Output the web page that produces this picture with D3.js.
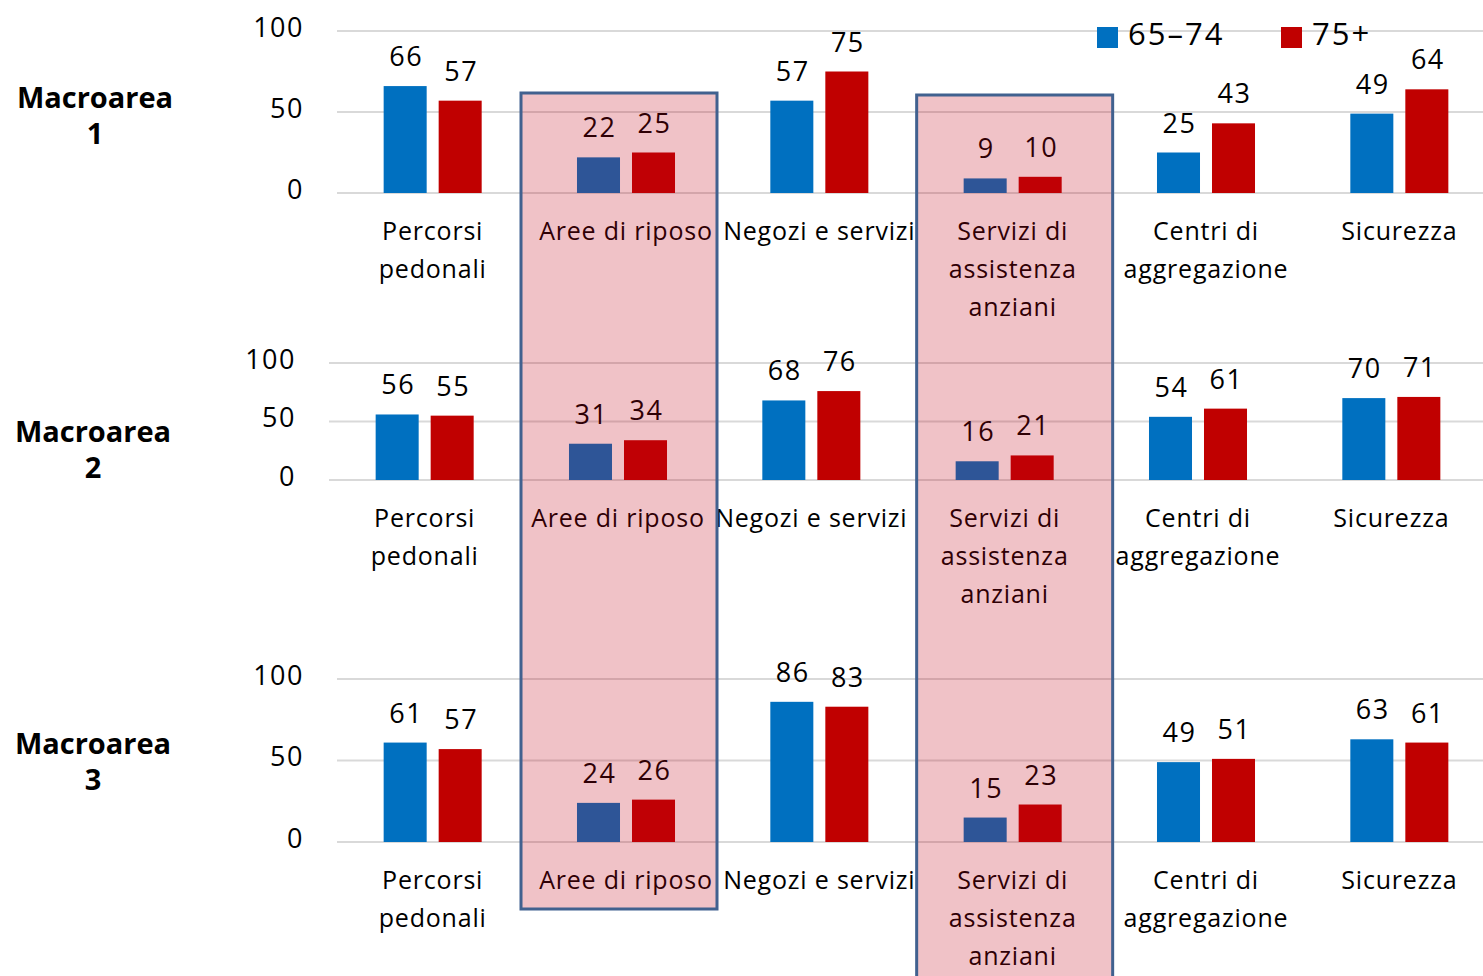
<!DOCTYPE html>
<html>
<head>
<meta charset="utf-8">
<script src="https://cdn.jsdelivr.net/npm/d3@7"></script>
<style>
  body { margin: 0; background: #fff; overflow: hidden; }
  text { font-family: "Open Sans", sans-serif; fill: #000; }
</style>
</head>
<body>
<div id="chart"></div>
<script>
// chart data
const categories = ['Percorsi pedonali', 'Aree di riposo', 'Negozi e servizi', 'Servizi di assistenza anziani', 'Centri di aggregazione', 'Sicurezza'];
const categoryLines = [['Percorsi', 'pedonali'], ['Aree di riposo'], ['Negozi e servizi'], ['Servizi di', 'assistenza', 'anziani'], ['Centri di', 'aggregazione'], ['Sicurezza']];
const seriesNames = ['65–74', '75+'];
const macroareas = [['Macroarea', '1'], ['Macroarea', '2'], ['Macroarea', '3']];
const values6574 = [[66, 22, 57, 9, 25, 49], [56, 31, 68, 16, 54, 70], [61, 24, 86, 15, 49, 63]];
const values75 = [[57, 25, 75, 10, 43, 64], [55, 34, 76, 21, 61, 71], [57, 26, 83, 23, 51, 61]];
const yTicks = [0, 50, 100];
const highlighted = ['Aree di riposo', 'Servizi di assistenza anziani'];

const colors = {'65–74': '#0070c0', '75+': '#c00000'};

const width = 1483, height = 976;

// layout of the three small charts
const panels = [
    {top: 31, bottom: 193, left: 336, titleX: 95, titleY: 96},
    {top: 363, bottom: 480, left: 328, titleX: 93, titleY: 430},
    {top: 679, bottom: 842, left: 336, titleX: 93, titleY: 742}
];

const svg = d3.select('#chart').append('svg')
    .attr('width', width)
    .attr('height', height);

let firstX0 = null;

panels.forEach((p, i) => {
    const x0 = d3.scaleBand()
        .domain(categories)
        .range([p.left, p.left + 1160])
        .paddingInner(0.493)
        .paddingOuter(0.2465);
    const x1 = d3.scaleBand()
        .domain(seriesNames)
        .range([0, x0.bandwidth()])
        .paddingInner(0.218);
    const y = d3.scaleLinear().domain([0, 100]).range([p.bottom, p.top]);
    if (i === 0) firstX0 = x0;

    const g = svg.append('g');

    // grid
    g.selectAll('line.grid')
        .data(yTicks)
        .enter().append('line')
            .attr('x1', p.left + 1)
            .attr('x2', width)
            .attr('y1', d => y(d))
            .attr('y2', d => y(d))
            .attr('stroke', '#d9d9d9')
            .attr('stroke-width', 2);

    // y tick labels
    g.selectAll('text.tick')
        .data(yTicks)
        .enter().append('text')
            .attr('x', p.left - 32)
            .attr('y', d => y(d) - 5)
            .attr('text-anchor', 'end')
            .attr('dominant-baseline', 'central')
            .style('font-size', '27px')
            .style('letter-spacing', '1.5px')
            .text(d => d);

    // macroarea title
    g.append('text')
        .attr('x', p.titleX)
        .attr('y', p.titleY)
        .attr('text-anchor', 'middle')
        .attr('dominant-baseline', 'central')
        .style('font-size', '29px')
        .style('font-weight', 'bold')
        .selectAll('tspan')
        .data(macroareas[i])
        .enter().append('tspan')
            .attr('x', p.titleX)
            .attr('dy', (d, k) => k === 0 ? 0 : 36)
            .text(d => d);

    const rows = categories.map((c, k) => ({
        cat: c,
        vals: [{s: '65–74', v: values6574[i][k]}, {s: '75+', v: values75[i][k]}]
    }));

    const groups = g.selectAll('g.cat')
        .data(rows)
        .enter().append('g')
            .attr('transform', d => `translate(${x0(d.cat)},0)`);

    groups.selectAll('rect')
        .data(d => d.vals)
        .enter().append('rect')
            .attr('x', d => x1(d.s))
            .attr('y', d => y(d.v))
            .attr('width', x1.bandwidth())
            .attr('height', d => y(0) - y(d.v))
            .attr('fill', d => colors[d.s]);

    groups.selectAll('text.val')
        .data(d => d.vals)
        .enter().append('text')
            .attr('x', d => x1(d.s) + x1.bandwidth() / 2 + 1)
            .attr('y', d => y(d.v) - 20)
            .attr('text-anchor', 'middle')
            .style('font-size', '27px')
            .style('letter-spacing', '1.5px')
            .text(d => d.v);

    // category labels
    g.selectAll('text.cat')
        .data(categories)
        .enter().append('text')
            .attr('text-anchor', 'middle')
            .attr('dominant-baseline', 'central')
            .attr('y', p.bottom + 37)
            .style('font-size', '25px')
            .style('letter-spacing', '0.8px')
            .each(function(c, k) {
                d3.select(this).selectAll('tspan')
                    .data(categoryLines[k])
                    .enter().append('tspan')
                        .attr('x', x0(c) + x0.bandwidth() / 2)
                        .attr('dy', (d, j) => j === 0 ? 0 : 38)
                        .text(d => d);
            });
});

// highlight boxes drawn on top
const boxTops = [93, 95];
const boxBottoms = [909, 1010];
const boxShift = [-105, -96];
svg.selectAll('rect.hl')
    .data(highlighted)
    .enter().append('rect')
        .attr('x', (d, k) => firstX0(d) + firstX0.bandwidth() / 2 + boxShift[k])
        .attr('y', (d, k) => boxTops[k])
        .attr('width', 196)
        .attr('height', (d, k) => boxBottoms[k] - boxTops[k])
        .attr('fill', 'rgba(192,0,20,0.24)')
        .attr('stroke', '#41618f')
        .attr('stroke-width', 3);

// legend
const legend = svg.append('g');
const legendX = [1097, 1281];
seriesNames.forEach((s, k) => {
    legend.append('rect')
        .attr('x', legendX[k])
        .attr('y', 27)
        .attr('width', 21)
        .attr('height', 21)
        .attr('fill', colors[s]);
    legend.append('text')
        .attr('x', legendX[k] + 31)
        .attr('y', 45)
        .style('font-size', '31px')
        .style('letter-spacing', '2px')
        .text(s);
});
</script>
</body>
</html>
